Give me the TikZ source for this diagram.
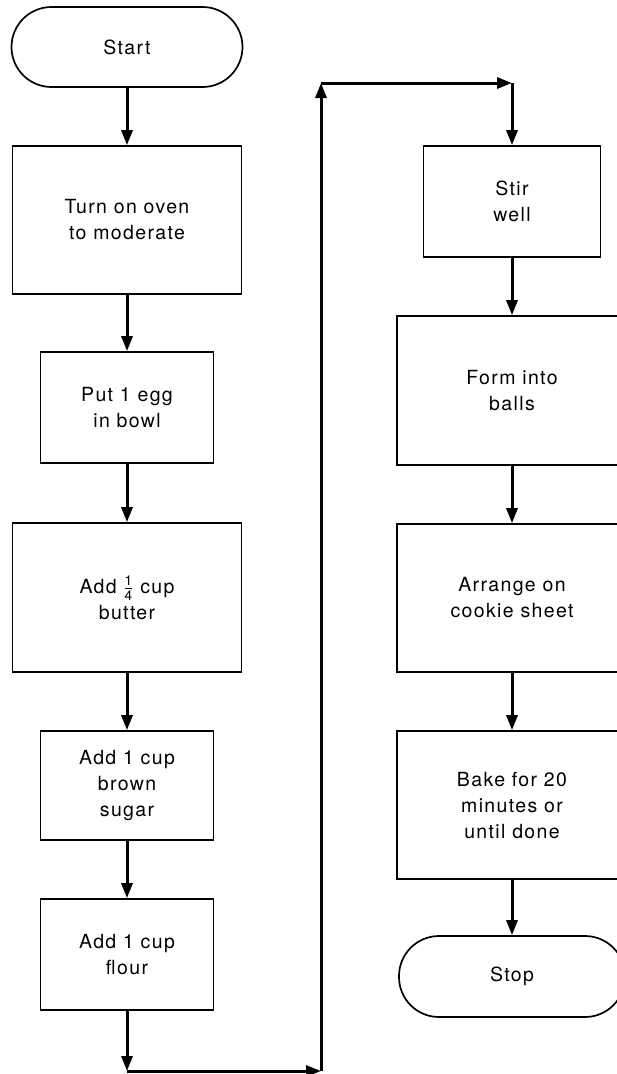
\documentclass[tikz,border=0pt]{standalone}
\usepackage{fontspec}
\usepackage{amsmath}
\setmainfont{TeX Gyre Heros}[LetterSpace=7]
\usetikzlibrary{arrows.meta}
\begin{document}
\begin{tikzpicture}[x=1pt,y=-1pt,
  every node/.style={font=\fontsize{19.5}{26}\selectfont, align=center, inner sep=0pt},
  procbox/.style={draw, line width=1.7pt, rectangle},
  termbox/.style={draw, line width=1.7pt, rectangle, rounded corners=40pt},
  arr/.style={line width=3pt, -{Triangle[length=15pt,width=11pt]}}
]
\useasboundingbox (0,0) rectangle (617,1074);
% left column
\node[termbox, minimum width=231pt, minimum height=80pt] (start) at (127,47) {Start};
\node[procbox, minimum width=229pt, minimum height=148pt] (oven) at (127,220) {Turn on oven\\to moderate};
\node[procbox, minimum width=173pt, minimum height=111pt] (egg) at (127,407.5) {Put 1 egg\\in bowl};
\node[procbox, minimum width=229pt, minimum height=149pt] (butter) at (127,597.5) {Add $\frac{\text{1}}{\text{4}}$ cup\\butter};
\node[procbox, minimum width=173pt, minimum height=109pt] (sugar) at (127,785.5) {Add 1 cup\\brown\\sugar};
\node[procbox, minimum width=173pt, minimum height=111pt] (flour) at (127,954.5) {Add 1 cup\\flour};
% right column
\node[procbox, minimum width=177pt, minimum height=111pt] (stir) at (512,201.5) {Stir\\well};
\node[procbox, minimum width=230pt, minimum height=149pt] (form) at (512,390.5) {Form into\\balls};
\node[procbox, minimum width=230pt, minimum height=148pt] (arrange) at (512,598) {Arrange on\\cookie sheet};
\node[procbox, minimum width=230pt, minimum height=148pt] (bake) at (512,805) {Bake for 20\\minutes or\\until done};
\node[termbox, minimum width=226pt, minimum height=81pt] (stop) at (512,976.5) {Stop};
% loop coordinates
\coordinate (c1) at (127,1071);
\coordinate (c2) at (321,1071);
\coordinate (c3) at (321,83);
\coordinate (c4) at (512,83);
% connectors
\draw[arr] (start) -- (oven);
\draw[arr] (oven) -- (egg);
\draw[arr] (egg) -- (butter);
\draw[arr] (butter) -- (sugar);
\draw[arr] (sugar) -- (flour);
\draw[arr] (flour) -- (c1);
\draw[arr] (c1) -- (c2);
\draw[arr] (c2) -- (c3);
\draw[arr] (c3) -- (c4);
\draw[arr] (c4) -- (stir);
\draw[arr] (stir) -- (form);
\draw[arr] (form) -- (arrange);
\draw[arr] (arrange) -- (bake);
\draw[arr] (bake) -- (stop);
\end{tikzpicture}
\end{document}
